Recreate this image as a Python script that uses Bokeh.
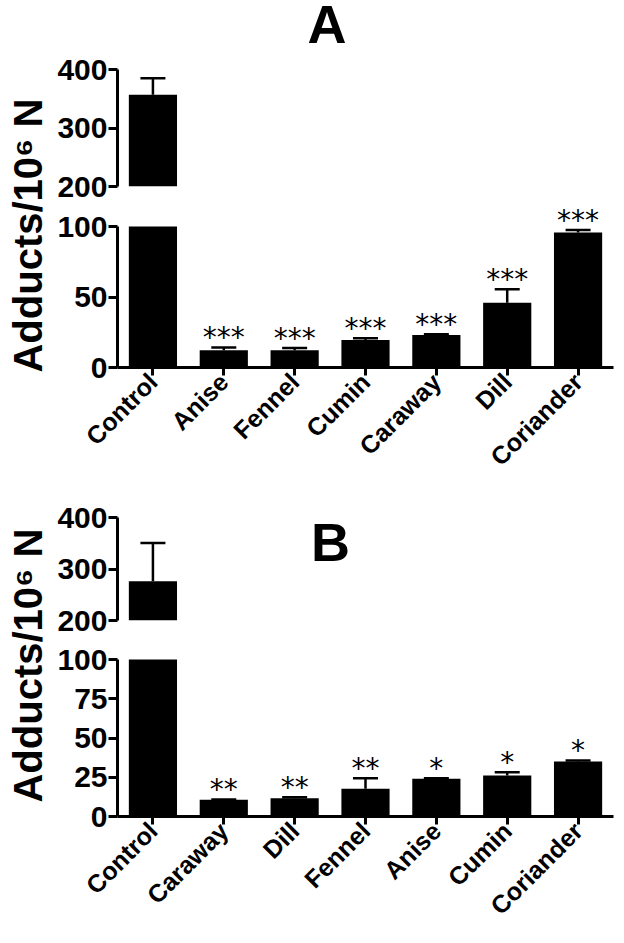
from math import pi
from bokeh.plotting import figure
from bokeh.models import (FactorRange, Range1d, FixedTicker, ColumnDataSource, LabelSet,
                          Label, CDSView, BooleanFilter)
from bokeh.layouts import column, row
from bokeh.embed import file_html
from bokeh.resources import INLINE
from bokeh.core.properties import value

# ---------------- data ----------------
cats_a = ["Control", "Anise", "Fennel", "Cumin", "Caraway", "Dill", "Coriander"]
vals_a = [357, 12.2, 12.2, 19.5, 23.0, 46.0, 95.8]
errs_a = [28, 2.0, 1.6, 1.2, 0.5, 9.5, 1.7]
stars_a = ["", "***", "***", "***", "***", "***", "***"]

cats_b = ["Control", "Caraway", "Dill", "Fennel", "Anise", "Cumin", "Coriander"]
vals_b = [276, 10.6, 11.7, 17.6, 24.0, 26.1, 35.0]
errs_b = [74.5, 0.3, 0.6, 6.8, 0.3, 2.1, 0.7]
stars_b = ["", "**", "**", "**", "*", "*", "*"]

upper_ticks = [200, 300, 400]
lower_ticks_a = [0, 50, 100]
lower_ticks_b = [0, 25, 50, 75, 100]
y_title = "Adducts/10\u2076 N"

# axis break: lower segment 0..100, upper segment 200..400
LOW_MIN, LOW_MAX = 0, 100
UP_MIN, UP_MAX = 200, 400

FONT = "Liberation Sans"
FRAME_W = 496
LEFT = 65
RIGHT = 3
LAB_W = 52
PLOT_W = LEFT + FRAME_W + RIGHT
UP_BOTTOM = 16


def style_common(p):
    p.outline_line_color = None
    p.grid.visible = False
    p.background_fill_color = "white"
    p.border_fill_color = "white"


def style_y(p, ticks, bounds):
    ax = p.yaxis[0]
    ax.ticker = FixedTicker(ticks=ticks)
    ax.bounds = bounds
    ax.axis_line_width = 3
    ax.axis_line_color = "black"
    ax.major_tick_line_width = 3
    ax.major_tick_line_color = "black"
    ax.major_tick_out = 9
    ax.major_tick_in = 0
    ax.minor_tick_out = 0
    ax.minor_tick_in = 0
    ax.major_label_text_font = FONT
    ax.major_label_text_font_style = "bold"
    ax.major_label_text_font_size = "30px"
    ax.major_label_text_color = "black"
    ax.major_label_standoff = 1


def make_panel(cats, vals, errs, stars, lower_ticks, letter,
               up_pad, up_seg, gap, low_seg, low_bottom,
               letter_x, letter_px_above_400, label_center_from_top):
    src = ColumnDataSource(dict(
        cat=cats, val=vals, err=errs,
        top=[v + e for v, e in zip(vals, errs)],
        low_top=[min(v, LOW_MAX) for v in vals],
        star=stars))
    xr = FactorRange(factors=cats, range_padding=0)
    # only bars reaching the upper axis segment are drawn there
    up_view = CDSView(filter=BooleanFilter([v > UP_MIN for v in vals]))

    # upper segment (200..400) plus free space above it for the panel letter
    up_px_per_unit = up_seg / (UP_MAX - UP_MIN)
    up_h = up_pad + up_seg + UP_BOTTOM
    up = figure(x_range=xr,
                y_range=Range1d(UP_MIN, UP_MAX + up_pad / up_px_per_unit),
                width=PLOT_W, height=up_h,
                min_border_left=LEFT, min_border_right=RIGHT,
                min_border_top=0, min_border_bottom=UP_BOTTOM,
                x_axis_location=None, output_backend="svg",
                toolbar_location=None)
    style_common(up)
    style_y(up, upper_ticks, (UP_MIN, UP_MAX))
    up.vbar(x="cat", top="val", bottom=0, width=0.68, source=src, view=up_view,
            fill_color="black", line_color=None)
    up.segment(x0="cat", y0="val", x1="cat", y1="top", source=src, view=up_view,
               line_color="black", line_width=2.5)
    up.scatter(x="cat", y="top", marker="dash", size=25, source=src, view=up_view,
               line_color="black", line_width=2.5)
    up.add_layout(Label(x=letter_x, y=UP_MAX + letter_px_above_400 / up_px_per_unit,
                        text=letter, text_font=FONT, text_font_style="bold",
                        text_font_size="54px", text_align="left",
                        text_baseline="middle", text_color="black"))

    # lower segment (0..100) plus the gap above it (room for stars)
    low_px_per_unit = low_seg / (LOW_MAX - LOW_MIN)
    low_h = gap + low_seg + low_bottom
    low = figure(x_range=xr,
                 y_range=Range1d(LOW_MIN, LOW_MAX + gap / low_px_per_unit),
                 width=PLOT_W, height=low_h,
                 min_border_left=LEFT, min_border_right=RIGHT,
                 min_border_top=0, min_border_bottom=low_bottom,
                 output_backend="svg", toolbar_location=None)
    style_common(low)
    style_y(low, lower_ticks, (LOW_MIN, LOW_MAX))
    xa = low.xaxis[0]
    xa.axis_line_width = 3
    xa.axis_line_color = "black"
    xa.major_tick_line_width = 3
    xa.major_tick_line_color = "black"
    xa.major_tick_out = 8
    xa.major_tick_in = 0
    xa.major_label_orientation = pi / 4
    xa.major_label_text_font = FONT
    xa.major_label_text_font_style = "bold"
    xa.major_label_text_font_size = "25px"
    xa.major_label_text_color = "black"
    xa.major_label_standoff = 2
    low.vbar(x="cat", top="low_top", bottom=0, width=0.68, source=src,
             fill_color="black", line_color=None)
    low.segment(x0="cat", y0="val", x1="cat", y1="top", source=src,
                line_color="black", line_width=2.5)
    low.scatter(x="cat", y="top", marker="dash", size=25, source=src,
                line_color="black", line_width=2.5)
    low.add_layout(LabelSet(x="cat", y="top", text="star", source=src,
                            text_align="center", text_baseline="alphabetic",
                            text_font=value("DejaVu Sans"),
                            text_font_size=value("28px"),
                            text_color="black"))

    total_h = up_h + low_h
    lab = figure(x_range=Range1d(0, LAB_W), y_range=Range1d(0, total_h),
                 width=LAB_W, height=total_h,
                 min_border=0, x_axis_location=None, y_axis_location=None,
                 output_backend="svg", toolbar_location=None)
    lab.outline_line_color = None
    lab.grid.visible = False
    lab.text(x=[27], y=[total_h - label_center_from_top], text=[y_title],
             angle=pi / 2, text_align="center", text_baseline="middle",
             text_font=value(FONT), text_font_style="bold",
             text_font_size="40px", text_color="black")

    return row(lab, column(up, low, spacing=0), spacing=0)


# page rows: A upper frame 0..186 (400 at 69), A lower 100 at 226, 0 at 367
panel_a = make_panel(cats_a, vals_a, errs_a, stars_a, lower_ticks_a, "A",
                     up_pad=69, up_seg=117, gap=24, low_seg=141, low_bottom=120,
                     letter_x=2.68, letter_px_above_400=46,
                     label_center_from_top=235)
# B starts at 487: 400 at 517, 200 at 620, 100 at 659, 0 at 816
panel_b = make_panel(cats_b, vals_b, errs_b, stars_b, lower_ticks_b, "B",
                     up_pad=30, up_seg=103, gap=23, low_seg=157, low_bottom=120,
                     letter_x=2.73, letter_px_above_400=-24,
                     label_center_from_top=665 - 487)

layout = column(panel_a, panel_b, spacing=0)

html = file_html(layout, INLINE, title="Adducts")
with open("out.html", "w") as f:
    f.write(html)
